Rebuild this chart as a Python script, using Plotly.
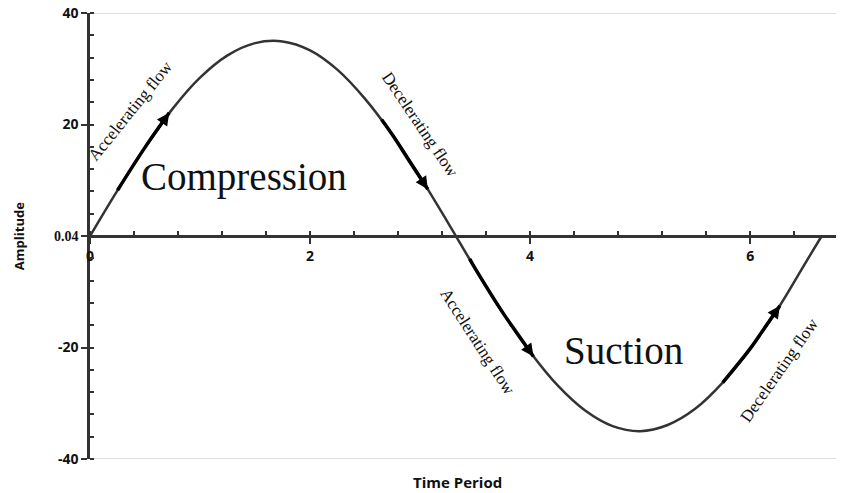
import plotly.graph_objects as go

# Values
time_period = [0, 0.25, 0.5, 0.75, 1.0, 1.25, 1.5, 1.75, 2.0, 2.25, 2.5, 2.75, 3.0,
               3.25, 3.5, 3.75, 4.0, 4.25, 4.5, 4.75, 5.0, 5.25, 5.5, 5.75, 6.0,
               6.25, 6.5, 6.65]
amplitude = [0, 8.2, 15.9, 22.8, 28.4, 32.4, 34.6, 34.9, 33.3, 29.8, 24.6, 18.1, 10.6,
             2.5, -5.8, -13.7, -20.8, -26.8, -31.3, -34.1, -35.0, -33.9, -31.0, -26.3,
             -20.2, -13.1, -4.9, 0]

# highlighted flow segments (arrows)
seg_x = [[0.25, 0.5, 0.72], [2.65, 2.75, 2.92, 3.07], [3.45, 3.5, 3.75, 3.88, 4.03],
         [5.75, 6.0, 6.12, 6.27]]
seg_y = [[8.2, 15.9, 22.1], [20.9, 18.1, 12.9, 8.4], [-4.1, -5.8, -13.7, -17.4, -21.6],
         [-26.3, -20.2, -16.8, -12.5]]

y_ticks = [-40, -20, 0, 20, 40]
y_ticktext = ["-40", "-20", "<span style='font-family:Liberation Serif'>0.04</span>", "20", "40"]
x_ticks = [0, 2, 4, 6]
x_ticktext = ["0", "2", "4", "6"]

flow_labels = ["Accelerating flow", "Decelerating flow", "Accelerating flow", "Decelerating flow"]
flow_label_x = [0.37, 3.0, 3.52, 6.27]
flow_label_y = [22.5, 20.0, -19.0, -24.0]
flow_label_angle = [-51, 56, 57, -55]

region_labels = ["Compression", "Suction"]
region_x = [1.4, 4.85]
region_y = [10.6, -20.5]

fig = go.Figure()
fig.add_trace(go.Scatter(x=time_period, y=amplitude, mode="lines",
                         line=dict(color="#333333", width=2.5, shape="spline"),
                         showlegend=False, hoverinfo="skip"))
for sx, sy in zip(seg_x, seg_y):
    fig.add_trace(go.Scatter(x=sx, y=sy, mode="lines",
                             line=dict(color="#000000", width=3.5, shape="spline"),
                             showlegend=False, hoverinfo="skip"))
    fig.add_annotation(x=sx[-1], y=sy[-1], ax=sx[-2], ay=sy[-2], axref="x", ayref="y",
                       xref="x", yref="y", text="", showarrow=True, arrowhead=2,
                       arrowsize=1.0, arrowwidth=2.5, arrowcolor="#000000")

for t, lx, ly, ang in zip(flow_labels, flow_label_x, flow_label_y, flow_label_angle):
    fig.add_annotation(x=lx, y=ly, text=t, showarrow=False, textangle=ang,
                       font=dict(family="Liberation Serif", size=17, color="#111111"))

for t, lx, ly in zip(region_labels, region_x, region_y):
    fig.add_annotation(x=lx, y=ly, text=t, showarrow=False,
                       font=dict(family="Liberation Serif", size=39, color="#111111"))

# light border lines at top and bottom of plot
for yv in [40, -40]:
    fig.add_shape(type="line", xref="paper", x0=0, x1=1, yref="y", y0=yv, y1=yv,
                  line=dict(color="#bbbbbb", width=1), layer="below")

fig.update_layout(
    width=846, height=493,
    margin=dict(l=90, r=10, t=13, b=34),
    paper_bgcolor="white", plot_bgcolor="white",
    font=dict(family="Liberation Sans", color="#111111"),
    xaxis=dict(range=[0, 6.78], anchor="free", position=0.5, automargin=False,
               tickvals=x_ticks, ticktext=["<b>%s</b>" % t for t in x_ticktext],
               tickfont=dict(size=14, family="Open Sans"),
               showgrid=False, zeroline=False,
               showline=True, linecolor="#333333", linewidth=2.5,
               ticks="outside", ticklen=6, tickwidth=2, tickcolor="#333333",
               minor=dict(dtick=0.4, tick0=0, ticks="inside", ticklen=4,
                          tickwidth=1.5, tickcolor="#333333", showgrid=False)),
    yaxis=dict(range=[-40, 40], automargin=False,
               tickvals=y_ticks, ticktext=["<b>%s</b>" % t for t in y_ticktext],
               tickfont=dict(size=14, family="Open Sans"),
               showgrid=False, zeroline=False,
               showline=True, linecolor="#333333", linewidth=2.5,
               ticks="outside", ticklen=6, tickwidth=2, tickcolor="#333333",
               minor=dict(dtick=4, tick0=0, ticks="inside", ticklen=4,
                          tickwidth=1.5, tickcolor="#333333", showgrid=False)),
)

fig.add_annotation(text="<b>Amplitude</b>", xref="paper", yref="paper", x=-0.095, y=0.5,
                   textangle=-90, showarrow=False, xanchor="center",
                   font=dict(family="Open Sans", size=13, color="#111111"))
fig.add_annotation(text="<b>Time Period</b>", xref="paper", yref="paper", x=0.492, y=-0.052,
                   yanchor="middle", showarrow=False,
                   font=dict(family="Open Sans", size=15, color="#111111"))

fig.write_html("out.html", config={"displayModeBar": False},
               post_script="document.body.style.margin='0';")
